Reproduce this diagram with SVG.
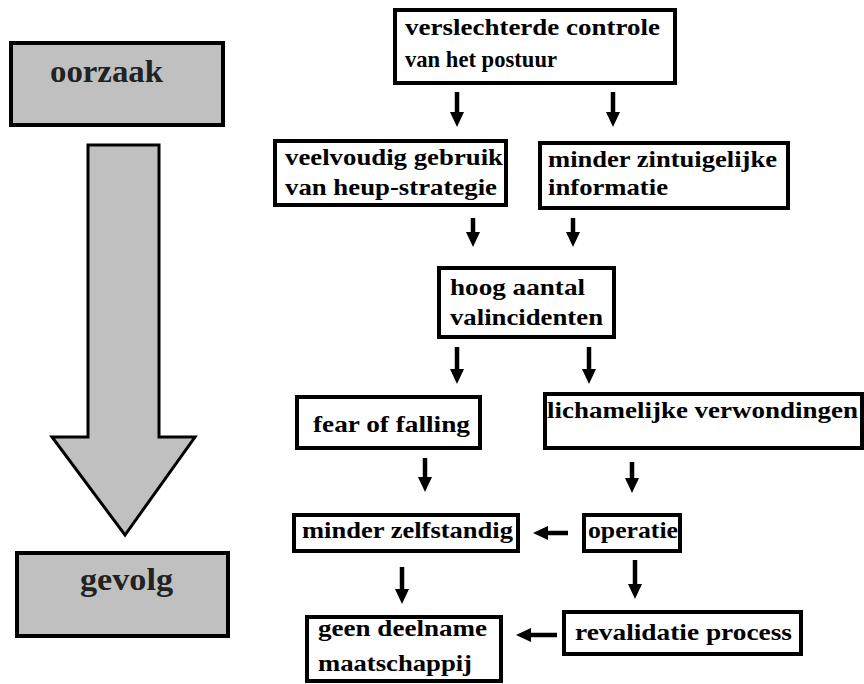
<svg xmlns="http://www.w3.org/2000/svg" width="864" height="684" viewBox="0 0 864 684">
<style>
.box{fill:#fff;stroke:#000;stroke-width:4}
.gbox{fill:#c0c0c0;stroke:#000;stroke-width:4}
.t{font-family:'Liberation Serif','DejaVu Serif',serif;font-weight:700;font-size:23px;fill:#000}
.big{font-family:'Liberation Serif','DejaVu Serif',serif;font-weight:700;font-size:31px;fill:#222}
.ar{stroke:#000;stroke-width:4.5;fill:none;marker-end:url(#ah)}
</style>
<defs>
<marker id="ah" markerUnits="userSpaceOnUse" markerWidth="16" markerHeight="16" refX="1" refY="8" orient="auto">
<path d="M0,1 L15,8 L0,15 z" fill="#000"/>
</marker>
</defs>
<rect width="864" height="684" fill="#fff"/>
<g id="oorzaak"><rect class="gbox" x="11" y="43" width="212" height="82"/><text class="big" x="50" y="82" textLength="113" lengthAdjust="spacingAndGlyphs">oorzaak</text></g>
<g id="bigarrow"><polygon points="88,145 159,145 159,437 195,437 125,535 52,437 88,437" fill="#c0c0c0" stroke="#000" stroke-width="3" stroke-linejoin="miter"/></g>
<g id="gevolg"><rect class="gbox" x="17" y="553" width="211" height="83"/><text class="big" x="80" y="590" textLength="93" lengthAdjust="spacingAndGlyphs">gevolg</text></g>
<g id="n1"><rect class="box" x="395" y="10" width="280" height="73"/><text class="t" x="405" y="35" textLength="255" lengthAdjust="spacingAndGlyphs">verslechterde controle</text><text class="t" x="405" y="67" textLength="152" lengthAdjust="spacingAndGlyphs">van het postuur</text></g>
<g id="n2"><rect class="box" x="275" y="141" width="231" height="64"/><text class="t" x="285" y="165" textLength="218" lengthAdjust="spacingAndGlyphs">veelvoudig gebruik</text><text class="t" x="285" y="195" textLength="212" lengthAdjust="spacingAndGlyphs">van heup-strategie</text></g>
<g id="n3"><rect class="box" x="540" y="143" width="248" height="65"/><text class="t" x="548" y="167" textLength="229" lengthAdjust="spacingAndGlyphs">minder zintuigelijke</text><text class="t" x="548" y="195" textLength="120" lengthAdjust="spacingAndGlyphs">informatie</text></g>
<g id="n4"><rect class="box" x="439" y="268" width="175" height="69"/><text class="t" x="450" y="295" textLength="135" lengthAdjust="spacingAndGlyphs">hoog aantal</text><text class="t" x="450" y="325" textLength="153" lengthAdjust="spacingAndGlyphs">valincidenten</text></g>
<g id="n5"><rect class="box" x="297" y="397" width="183" height="51"/><text class="t" x="313" y="432" textLength="157" lengthAdjust="spacingAndGlyphs">fear of falling</text></g>
<g id="n6"><rect class="box" x="545" y="394" width="317" height="54"/><text class="t" x="547" y="418" textLength="311" lengthAdjust="spacingAndGlyphs">lichamelijke verwondingen</text></g>
<g id="n7"><rect class="box" x="294" y="515" width="224" height="36"/><text class="t" x="302" y="538" textLength="211" lengthAdjust="spacingAndGlyphs">minder zelfstandig</text></g>
<g id="n8"><rect class="box" x="584" y="515" width="96" height="36"/><text class="t" x="588" y="538" textLength="90" lengthAdjust="spacingAndGlyphs">operatie</text></g>
<g id="n9"><rect class="box" x="307" y="617" width="194" height="64"/><text class="t" x="318" y="636" textLength="169" lengthAdjust="spacingAndGlyphs">geen deelname</text><text class="t" x="318" y="671" textLength="154" lengthAdjust="spacingAndGlyphs">maatschappij</text></g>
<g id="n10"><rect class="box" x="564" y="612" width="237" height="42"/><text class="t" x="575" y="640" textLength="217" lengthAdjust="spacingAndGlyphs">revalidatie process</text></g>
<g id="connectors">
<line class="ar" x1="457" y1="92" x2="457" y2="113"/>
<line class="ar" x1="613" y1="92" x2="613" y2="113"/>
<line class="ar" x1="473" y1="218" x2="473" y2="233"/>
<line class="ar" x1="573" y1="218" x2="573" y2="233"/>
<line class="ar" x1="457" y1="347" x2="457" y2="370"/>
<line class="ar" x1="589" y1="347" x2="589" y2="370"/>
<line class="ar" x1="425" y1="458" x2="425" y2="478"/>
<line class="ar" x1="632" y1="462" x2="632" y2="479"/>
<line class="ar" x1="568" y1="533" x2="547" y2="533"/>
<line class="ar" x1="402" y1="567" x2="402" y2="590"/>
<line class="ar" x1="635" y1="560" x2="635" y2="585"/>
<line class="ar" x1="557" y1="635" x2="530" y2="635"/>
</g>
</svg>
